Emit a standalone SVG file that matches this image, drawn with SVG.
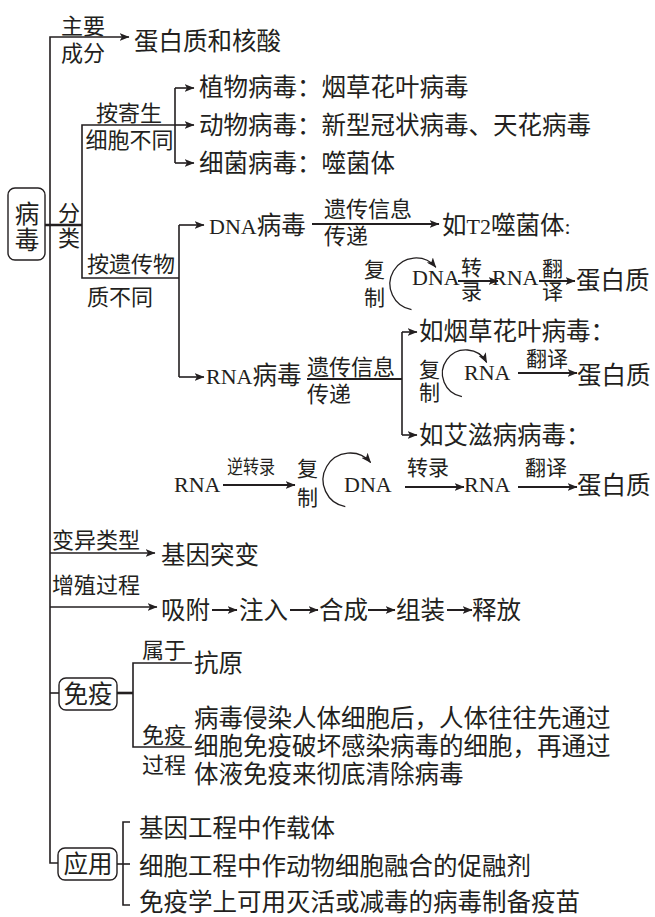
<svg xmlns="http://www.w3.org/2000/svg" width="655" height="917" viewBox="0 0 655 917">
<style>
text{fill:#231f20;font-family:"Noto Sans CJK SC","Noto Sans CJK JP",sans-serif}
.m{font-size:24.5px}
.l{font-size:22px}
.s{font-size:21px}
.e{font-family:"Liberation Serif","Times New Roman",serif;font-size:22px}
.mc{font-family:"Noto Sans CJK SC",sans-serif;font-size:24.5px}
.c{text-anchor:middle}
.ln{fill:none;stroke:#231f20;stroke-width:1.6}
.th{stroke-width:2.6}
.ar{marker-end:url(#ah)}
.box{fill:#fff;stroke:#231f20;stroke-width:1.4}
</style>
<defs>
<marker id="ah" viewBox="0 0 10 8" markerWidth="10" markerHeight="8" refX="9.5" refY="4" orient="auto" markerUnits="userSpaceOnUse">
<path d="M0,0 L10,4 L0,8 L2.5,4 z" fill="#231f20"/>
</marker>
</defs>
<rect width="655" height="917" fill="#fff"/>

<g id="connectors">
<path class="ln ar" d="M58,863 H50 V37 H129"/>
<path class="ln th" d="M45,225 H82"/>
<path class="ln" d="M175,125 H82 V278 H179"/>
<path class="ln" d="M175,88 V163"/>
<path class="ln ar" d="M175,88 H194"/>
<path class="ln ar" d="M175,125 H194"/>
<path class="ln ar" d="M175,163 H194"/>
<path class="ln" d="M179,225 V377"/>
<path class="ln ar" d="M179,225 H204"/>
<path class="ln ar" d="M179,377 H204"/>
<path class="ln ar" style="stroke-width:2" d="M312,224 H439"/>
<path class="ln ar" style="stroke-width:1.3" d="M411.5,309.6 A26,26 0 1 1 435.9,267.3"/>
<path class="ln ar" style="stroke-width:2" d="M458,281 H498"/>
<path class="ln ar" style="stroke-width:2" d="M539,281 H575"/>
<path class="ln" style="stroke-width:2" d="M307,379 H402"/>
<path class="ln" d="M402,332 V435"/>
<path class="ln ar" d="M402,332 H417"/>
<path class="ln ar" d="M402,435 H417"/>
<path class="ln ar" style="stroke-width:1.3" d="M461.9,396.6 A23.5,23.5 0 1 1 486.7,362.5"/>
<path class="ln ar" style="stroke-width:2" d="M518,373 H577"/>
<path class="ln ar" style="stroke-width:2" d="M223,485 H295"/>
<path class="ln ar" style="stroke-width:1.3" d="M345.3,506.6 A27,27 0 1 1 370.7,462.6"/>
<path class="ln ar" style="stroke-width:2" d="M405,487 H464"/>
<path class="ln ar" style="stroke-width:2" d="M518,487 H577"/>
<path class="ln ar" d="M50,553 H155"/>
<path class="ln ar" d="M50,607 H157"/>
<path class="ln ar" style="stroke-width:2" d="M212,610 H237"/>
<path class="ln ar" style="stroke-width:2" d="M290,610 H318"/>
<path class="ln ar" style="stroke-width:2" d="M368,610 H395"/>
<path class="ln ar" style="stroke-width:2" d="M447,610 H472"/>
<path class="ln" d="M50,693 H59"/>
<path class="ln th" d="M117,693 H133"/>
<path class="ln" d="M192,663 H133 V747 H192"/>
<path class="ln" d="M117,864 H130"/>
<path class="ln" d="M130,822 H123 V905 H130"/>
</g>

<g id="node-virus">
<rect class="box" x="8" y="188" width="37" height="72" rx="7"/>
<text class="m c" x="27" y="223.3">病</text>
<text class="m c" x="27" y="249.3">毒</text>
</g>

<g id="node-composition">
<text class="l" x="61" y="34.4">主要</text>
<text class="l" x="61" y="61">成分</text>
<text class="m" x="134" y="50.3">蛋白质和核酸</text>
</g>

<g id="node-classification">
<text class="l c" x="69" y="221.4">分</text>
<text class="l c" x="69" y="246.4">类</text>
<text class="l c" x="129" y="121.4">按寄生</text>
<text class="l c" x="129.5" y="148.4">细胞不同</text>
<text class="m" x="199" y="96.3">植物病毒：烟草花叶病毒</text>
<text class="m" x="199" y="134.3">动物病毒：新型冠状病毒、天花病毒</text>
<text class="m" x="199" y="172.3">细菌病毒：噬菌体</text>
<text class="l" x="87" y="272.4">按遗传物</text>
<text class="l" x="87" y="305.4">质不同</text>
</g>

<g id="node-dna-virus">
<text class="e" x="209" y="233.5">DNA<tspan class="mc">病毒</tspan></text>
<text class="l" x="324" y="217.4">遗传信息</text>
<text class="l" x="324" y="244.4">传递</text>
<text class="m" x="442" y="233.5">如<tspan class="e">T2</tspan>噬菌体<tspan class="e">:</tspan></text>
<text class="s" x="364" y="277">复</text>
<text class="s" x="364" y="305">制</text>
<text class="e" x="412" y="285">DNA</text>
<text class="s" x="461" y="275">转</text>
<text class="s" x="461" y="299">录</text>
<text class="e" x="492" y="285">RNA</text>
<text class="s" x="542" y="276">翻</text>
<text class="s" x="542" y="299">译</text>
<text class="m" x="576" y="289.3">蛋白质</text>
</g>

<g id="node-rna-virus">
<text class="e" x="206" y="383.5">RNA<tspan class="mc">病毒</tspan></text>
<text class="l" x="307" y="375.4">遗传信息</text>
<text class="l" x="307" y="402.4">传递</text>
<text class="m" x="419" y="340.3">如烟草花叶病毒：</text>
<text class="s" x="419" y="377">复</text>
<text class="s" x="419" y="400">制</text>
<text class="e" x="464" y="380">RNA</text>
<text class="s" x="526" y="366">翻译</text>
<text class="m" x="577" y="384.3">蛋白质</text>
<text class="m" x="419" y="444.3">如艾滋病病毒：</text>
<text class="e" x="174" y="492">RNA</text>
<text x="227" y="474" style="font-size:19px" textLength="48" lengthAdjust="spacingAndGlyphs">逆转录</text>
<text class="s" x="297" y="476">复</text>
<text class="s" x="297" y="505">制</text>
<text class="e" x="344" y="492">DNA</text>
<text class="s" x="407" y="475">转录</text>
<text class="e" x="464" y="492">RNA</text>
<text class="s" x="525" y="475">翻译</text>
<text class="m" x="577" y="494.3">蛋白质</text>
</g>

<g id="node-variation">
<text class="l" x="52" y="548.4">变异类型</text>
<text class="m" x="161" y="564.3">基因突变</text>
</g>

<g id="node-proliferation">
<text class="l" x="52" y="593.4">增殖过程</text>
<text class="m" x="161" y="619.3">吸附</text>
<text class="m" x="239" y="619.3">注入</text>
<text class="m" x="319" y="619.3">合成</text>
<text class="m" x="396" y="619.3">组装</text>
<text class="m" x="472" y="619.3">释放</text>
</g>

<g id="node-immunity">
<rect class="box" x="59" y="678" width="58" height="32" rx="7"/>
<text class="m c" x="88" y="703.3">免疫</text>
<text class="l" x="142" y="658.4">属于</text>
<text class="m" x="194" y="672.3">抗原</text>
<text class="l" x="142" y="743.4">免疫</text>
<text class="l" x="142" y="773.4">过程</text>
<text class="m" x="194" y="727.3">病毒侵染人体细胞后，人体往往先通过</text>
<text class="m" x="194" y="755.3">细胞免疫破坏感染病毒的细胞，再通过</text>
<text class="m" x="194" y="783.3">体液免疫来彻底清除病毒</text>
</g>

<g id="node-application">
<rect class="box" x="58" y="848" width="59" height="32" rx="7"/>
<text class="m c" x="88" y="873.3">应用</text>
<text class="m" x="139" y="837.3">基因工程中作载体</text>
<text class="m" x="139" y="875.3">细胞工程中作动物细胞融合的促融剂</text>
<text class="m" x="139" y="911.3">免疫学上可用灭活或减毒的病毒制备疫苗</text>
</g>
</svg>
